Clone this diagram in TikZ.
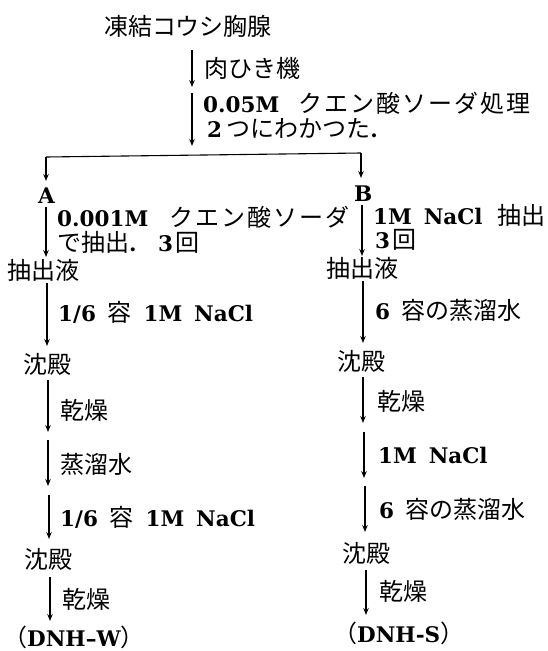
\documentclass[tikz,border=0pt]{standalone}
\usepackage{fontspec}
\setmainfont{DejaVu Serif}
\newfontfamily\jpfont{Noto Sans CJK JP}
\newcommand{\jpt}[1]{{\jpfont\mdseries\fontsize{24}{26}\selectfont #1}}
\newcommand{\jpw}[1]{{\jpfont\mdseries\fontsize{24}{26}\selectfont\addfontfeatures{LetterSpace=8}#1}}
\usetikzlibrary{arrows.meta}
\begin{document}
\begin{tikzpicture}[x=1pt,y=-1pt,
  flow/.style={line width=1.1pt,-{Stealth[length=7pt,width=5.5pt,inset=2.5pt]}},
  link/.style={line width=1.1pt},
  txt/.style={anchor=west,inner sep=0pt,font=\fontsize{21.5}{24}\selectfont\bfseries},
  jtxt/.style={anchor=west,inner sep=0pt,font=\fontsize{24}{26}\selectfont\jpfont}]
\useasboundingbox (0,0) rectangle (547,651);

% top
\node[jtxt] (title) at (104,26) {凍結コウシ胸腺};
\coordinate (t1s) at (192,50); \coordinate (t1e) at (192,87);
\coordinate (t2s) at (192,93); \coordinate (t2e) at (192,146);
\draw[flow] (t1s) -- (t1e);
\draw[flow] (t2s) -- (t2e);
\node[jtxt] (l1) at (204,68) {肉ひき機};
\node[txt] (l2) at (203,103) {0.05M\hspace{0.9em}\jpw{クエン酸ソーダ処理}};
\node[txt] (l3) at (207,128) {2\hspace{0.2em}\jpt{つにわかつた}.};

% split
\coordinate (hl) at (46,157); \coordinate (hr) at (361,153);
\coordinate (al) at (46,181); \coordinate (ar) at (361,178);
\draw[link] (hr) -- (hl);
\draw[flow] (hl) -- (al);
\draw[flow] (hr) -- (ar);
\node[txt] (A) at (38,196) {A};
\node[txt] (B) at (354,194) {B};

% left column
\coordinate (L1s) at (46,207); \coordinate (L1e) at (46,257);
\draw[flow] (L1s) -- (L1e);
\node[txt] (La) at (57,217) {0.001M\hspace{1em}\jpw{クエン酸ソーダ}};
\node[txt] (Lb) at (57,242) {\jpt{で抽出}.\hspace{1em}3\hspace{0.1em}\jpt{回}};
\node[jtxt] (Lext) at (7,270) {抽出液};
\coordinate (L2s) at (47,283); \coordinate (L2e) at (47,346);
\draw[flow] (L2s) -- (L2e);
\node[txt] (Lc) at (58,312) {1/6\hspace{0.55em}\jpt{容}\hspace{0.55em}1M\hspace{0.55em}NaCl};
\node[jtxt] (Lppt1) at (23,364) {沈殿};
\coordinate (L3s) at (48,380); \coordinate (L3e) at (48,432);
\draw[flow] (L3s) -- (L3e);
\node[jtxt] (Ld) at (60,410) {乾燥};
\coordinate (L4s) at (48,440); \coordinate (L4e) at (48,486);
\draw[flow] (L4s) -- (L4e);
\node[jtxt] (Le) at (60,464) {蒸溜水};
\coordinate (L5s) at (49,495); \coordinate (L5e) at (49,539);
\draw[flow] (L5s) -- (L5e);
\node[txt] (Lf) at (60,517) {1/6\hspace{0.55em}\jpt{容}\hspace{0.55em}1M\hspace{0.55em}NaCl};
\node[jtxt] (Lppt2) at (24,559) {沈殿};
\coordinate (L6s) at (50,577); \coordinate (L6e) at (50,621);
\draw[flow] (L6s) -- (L6e);
\node[jtxt] (Lg) at (62,599) {乾燥};
\node[txt] (DNHW) at (3,637) {\jpt{（}DNH–W\jpt{）}};

% right column
\coordinate (R1s) at (362,205); \coordinate (R1e) at (362,256);
\draw[flow] (R1s) -- (R1e);
\node[txt] (Ra) at (373,215) {1M\hspace{0.55em}NaCl\hspace{0.7em}\jpt{抽出}};
\node[txt] (Rb) at (375,240) {3\hspace{0.1em}\jpt{回}};
\node[jtxt] (Rext) at (326,268) {抽出液};
\coordinate (R2s) at (363,281); \coordinate (R2e) at (363,343);
\draw[flow] (R2s) -- (R2e);
\node[txt] (Rc) at (375,310) {6\hspace{0.55em}\jpt{容の蒸溜水}};
\node[jtxt] (Rppt1) at (337,361) {沈殿};
\coordinate (R3s) at (363,377); \coordinate (R3e) at (363,423);
\draw[flow] (R3s) -- (R3e);
\node[jtxt] (Rd) at (377,401) {乾燥};
\coordinate (R4s) at (364,432); \coordinate (R4e) at (364,478);
\draw[flow] (R4s) -- (R4e);
\node[txt] (Re) at (378,455) {1M\hspace{0.55em}NaCl};
\coordinate (R5s) at (365,486); \coordinate (R5e) at (365,532);
\draw[flow] (R5s) -- (R5e);
\node[txt] (Rf) at (379,509) {6\hspace{0.55em}\jpt{容の蒸溜水}};
\node[jtxt] (Rppt2) at (342,553) {沈殿};
\coordinate (R6s) at (366,570); \coordinate (R6e) at (366,615);
\draw[flow] (R6s) -- (R6e);
\node[jtxt] (Rg) at (379,591) {乾燥};
\node[txt] (DNHS) at (333,633) {\jpt{（}DNH-S\jpt{）}};
\end{tikzpicture}
\end{document}
